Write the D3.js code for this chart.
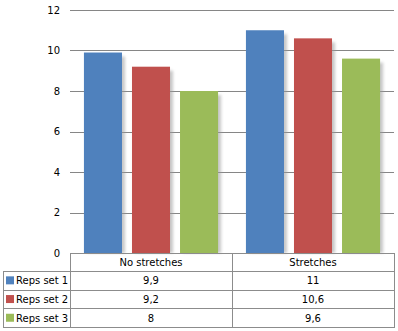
<!DOCTYPE html>
<html>
<head>
<meta charset="utf-8">
<script src="https://cdn.jsdelivr.net/npm/d3@7"></script>
<style>
  html, body { margin: 0; padding: 0; background: #fff; }
  svg { display: block; }
  text { font-family: "DejaVu Sans", Verdana, sans-serif; font-size: 10px; fill: #000; }
</style>
</head>
<body>
<svg id="chart" width="398" height="331"></svg>
<script>
// Chart data
const categories = ["No stretches", "Stretches"];
const seriesNames = ["Reps set 1", "Reps set 2", "Reps set 3"];
const seriesValues = [
  [9.9, 11],
  [9.2, 10.6],
  [8, 9.6]
];
const valueLabels = [
  ["9,9", "11"],
  ["9,2", "10,6"],
  ["8", "9,6"]
];
const yTicks = [0, 2, 4, 6, 8, 10, 12];
const colors = ["#4F81BD", "#C0504D", "#9BBB59"];

const svg = d3.select("#chart");

const plot = { left: 70, right: 394, top: 10, bottom: 253 };
const table = { left: 3, headerBottom: 271, rowH: 18.7 };

const y = d3.scaleLinear().domain([0, 12]).range([plot.bottom, plot.top]);
const x0 = d3.scaleBand().domain(categories).range([plot.left, plot.right]).paddingInner(0).paddingOuter(0);
const x1 = d3.scaleBand().domain(seriesNames).range([0, x0.bandwidth()]).paddingInner(0.208).paddingOuter(0.29);

// Soft shadow to the right of each bar
const defs = svg.append("defs");
const f = defs.append("filter").attr("id", "shadow").attr("x", "-20%").attr("y", "-20%").attr("width", "160%").attr("height", "140%");
f.append("feGaussianBlur").attr("stdDeviation", 1.6);

// Gridlines
svg.append("g").selectAll("line").data(yTicks.filter(d => d > 0)).join("line")
  .attr("x1", plot.left).attr("x2", plot.right)
  .attr("y1", d => Math.round(y(d)) + 0.5).attr("y2", d => Math.round(y(d)) + 0.5)
  .attr("stroke", "#868686").attr("stroke-width", 1);

// Y axis labels
const yAxis = d3.axisLeft(y).tickValues(yTicks).tickSize(0).tickPadding(10);
const yg = svg.append("g").attr("transform", `translate(${plot.left},0)`).call(yAxis);
yg.select(".domain").remove();
yg.selectAll("text").style("font-family", '"DejaVu Sans", Verdana, sans-serif').style("font-size", "10px").attr("fill", "#000");

// Bars
const groups = svg.append("g").selectAll("g").data(categories).join("g")
  .attr("transform", d => `translate(${x0(d)},0)`);

groups.each(function(cat, ci) {
  const g = d3.select(this);
  seriesNames.forEach((s, si) => {
    const v = seriesValues[si][ci];
    const bx = x1(s), bw = x1.bandwidth();
    g.append("rect")
      .attr("x", bx + 3).attr("y", y(v) + 4)
      .attr("width", bw).attr("height", plot.bottom - y(v) - 4)
      .attr("fill", "#9a9a9a").attr("opacity", 0.55)
      .attr("filter", "url(#shadow)");
    g.append("rect")
      .attr("x", bx).attr("y", y(v))
      .attr("width", bw).attr("height", plot.bottom - y(v))
      .attr("fill", colors[si]);
  });
});

// Data table
const border = "#8c8c8c";
const tg = svg.append("g");
const rowsY = [plot.bottom, table.headerBottom];
for (let i = 1; i <= seriesNames.length; i++) rowsY.push(table.headerBottom + i * table.rowH);
const tableBottom = rowsY[rowsY.length - 1];

// horizontal lines
tg.append("line").attr("x1", plot.left).attr("x2", plot.right)
  .attr("y1", Math.round(plot.bottom) + 0.5).attr("y2", Math.round(plot.bottom) + 0.5)
  .attr("stroke", border);
rowsY.slice(1).forEach(ry => {
  tg.append("line").attr("x1", table.left).attr("x2", plot.right)
    .attr("y1", Math.round(ry) + 0.5).attr("y2", Math.round(ry) + 0.5)
    .attr("stroke", border);
});
// vertical lines
tg.append("line").attr("x1", table.left + 0.5).attr("x2", table.left + 0.5)
  .attr("y1", table.headerBottom).attr("y2", Math.round(tableBottom) + 1).attr("stroke", border);
[plot.left, x0(categories[1]), plot.right].forEach(vx => {
  tg.append("line").attr("x1", Math.round(vx) + 0.5).attr("x2", Math.round(vx) + 0.5)
    .attr("y1", plot.bottom).attr("y2", Math.round(tableBottom) + 1).attr("stroke", border);
});

// header
categories.forEach(c => {
  tg.append("text").attr("x", x0(c) + x0.bandwidth() / 2).attr("y", (plot.bottom + table.headerBottom) / 2 + 4)
    .attr("text-anchor", "middle").text(c);
});

// rows
seriesNames.forEach((s, si) => {
  const top = table.headerBottom + si * table.rowH;
  const cy = top + table.rowH / 2;
  tg.append("rect").attr("x", 6).attr("y", cy - 4).attr("width", 8).attr("height", 8).attr("fill", colors[si]);
  tg.append("text").attr("x", 16).attr("y", cy + 4).text(s);
  categories.forEach((c, ci) => {
    tg.append("text").attr("x", x0(c) + x0.bandwidth() / 2).attr("y", cy + 4)
      .attr("text-anchor", "middle").text(valueLabels[si][ci]);
  });
});
</script>
</body>
</html>
